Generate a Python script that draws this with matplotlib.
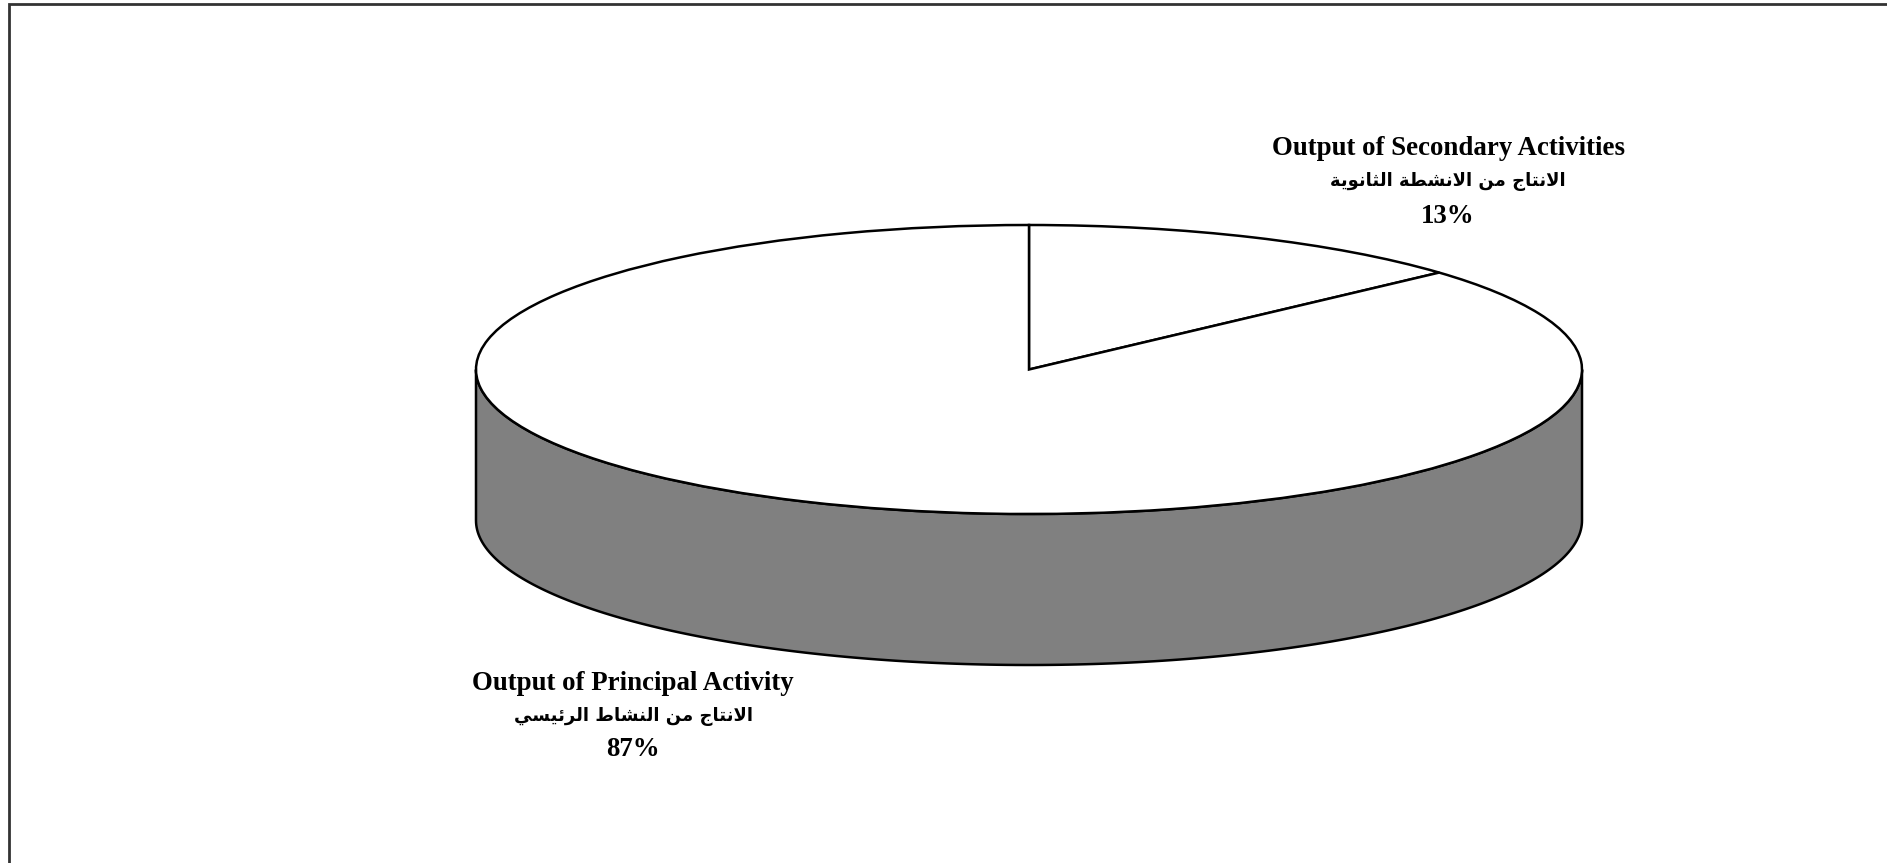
import numpy as np
import matplotlib
matplotlib.use("Agg")
import matplotlib.pyplot as plt
from matplotlib.patches import Polygon, Rectangle

# ---------------- data ----------------
categories_en = ["Output of Secondary Activities", "Output of Principal Activity"]
categories_ar = ["الانتاج من الانشطة الثانوية", "الانتاج من النشاط الرئيسي"]
values = [13.3, 86.7]
top_colors = ["white", "white"]
side_color = "#808080"

# ---------------- Arabic shaping (presentation forms, visual order) ----------------
FORMS = {  # isolated, final, initial, medial
    'ا': ('\uFE8D', '\uFE8E', None, None),
    'ل': ('\uFEDD', '\uFEDE', '\uFEDF', '\uFEE0'),
    'ن': ('\uFEE5', '\uFEE6', '\uFEE7', '\uFEE8'),
    'ت': ('\uFE95', '\uFE96', '\uFE97', '\uFE98'),
    'ج': ('\uFE9D', '\uFE9E', '\uFE9F', '\uFEA0'),
    'م': ('\uFEE1', '\uFEE2', '\uFEE3', '\uFEE4'),
    'ش': ('\uFEB5', '\uFEB6', '\uFEB7', '\uFEB8'),
    'ط': ('\uFEC1', '\uFEC2', '\uFEC3', '\uFEC4'),
    'ة': ('\uFE93', '\uFE94', None, None),
    'ث': ('\uFE99', '\uFE9A', '\uFE9B', '\uFE9C'),
    'و': ('\uFEED', '\uFEEE', None, None),
    'ي': ('\uFEF1', '\uFEF2', '\uFEF3', '\uFEF4'),
    'ر': ('\uFEAD', '\uFEAE', None, None),
    'ئ': ('\uFE89', '\uFE8A', '\uFE8B', '\uFE8C'),
    'س': ('\uFEB1', '\uFEB2', '\uFEB3', '\uFEB4'),
}
LAM_ALEF = ('\uFEFB', '\uFEFC')


def shape_ar(s):
    out = []
    n = len(s)
    i = 0
    prev_joins = False

    def dual(c):
        return c in FORMS and FORMS[c][2] is not None

    while i < n:
        c = s[i]
        if c not in FORMS:
            out.append(c)
            prev_joins = False
            i += 1
            continue
        if c == 'ل' and i + 1 < n and s[i + 1] == 'ا':
            out.append(LAM_ALEF[1] if prev_joins else LAM_ALEF[0])
            prev_joins = False
            i += 2
            continue
        nxt = s[i + 1] if i + 1 < n else None
        next_joins = dual(c) and nxt in FORMS
        iso, fin, ini, med = FORMS[c]
        if prev_joins and next_joins:
            g = med
        elif prev_joins:
            g = fin
        elif next_joins:
            g = ini
        else:
            g = iso
        out.append(g)
        prev_joins = dual(c)
        i += 1
    return ''.join(reversed(out))


# ---------------- figure ----------------
W, H = 1887, 863
fig = plt.figure(figsize=(W / 100, H / 100), dpi=100)
fig.patch.set_facecolor("white")

# outer border (clipped at right/bottom like the reference)
fig.patches.append(Rectangle((9 / W, -0.05), 1.2, 1 - 4 / H + 0.05,
                             transform=fig.transFigure, fill=False,
                             edgecolor="#333333", linewidth=2.0))

ax = fig.add_axes([0, 0, 1, 1])
cx, cy = 1029, 369.5          # pixel centre of the pie top
a_px, b_px = 553, 144.5       # pixel semi-axes
depth = 151 / b_px            # side depth in vertical units

ax.pie(values, colors=top_colors, startangle=90, counterclock=False,
       radius=1.0, center=(0, 0),
       wedgeprops=dict(edgecolor="black", linewidth=1.8, zorder=3))

# side of cylinder (visible front part -> principal slice)
t = np.linspace(np.pi, 2 * np.pi, 200)
xs = np.concatenate([np.cos(t), np.cos(t[::-1])])
ys = np.concatenate([np.sin(t) - depth, np.sin(t[::-1])])
ax.add_patch(Polygon(np.column_stack([xs, ys]), closed=True,
                     facecolor=side_color, edgecolor="black",
                     linewidth=1.8, zorder=2))

ax.set_aspect("auto")
ax.set_xlim(-cx / a_px, (W - cx) / a_px)
ax.set_ylim(-(H - cy) / b_px, cy / b_px)
ax.axis("off")

# ---------------- labels ----------------
en_font = dict(family="Liberation Serif", fontweight="bold", fontsize=19.4)
ar_font = dict(family=["DejaVu Sans"], fontweight="bold", fontsize=13)

label_pos = {  # pixel centres for (english, arabic, percent) lines
    0: (1448, [148.5, 181.5, 216.5]),
    1: (633, [683.5, 716.5, 750]),
}
for i in range(len(values)):
    x, ys_ = label_pos[i]
    pct = f"{round(100 * values[i] / sum(values))}%"
    fig.text(x / W, 1 - ys_[0] / H, categories_en[i], ha="center", va="center", **en_font)
    fig.text(x / W, 1 - ys_[1] / H, shape_ar(categories_ar[i]), ha="center", va="center", **ar_font)
    fig.text(x / W, 1 - ys_[2] / H, pct, ha="center", va="center", **en_font)

fig.savefig("out.png", dpi=100, facecolor="white")
